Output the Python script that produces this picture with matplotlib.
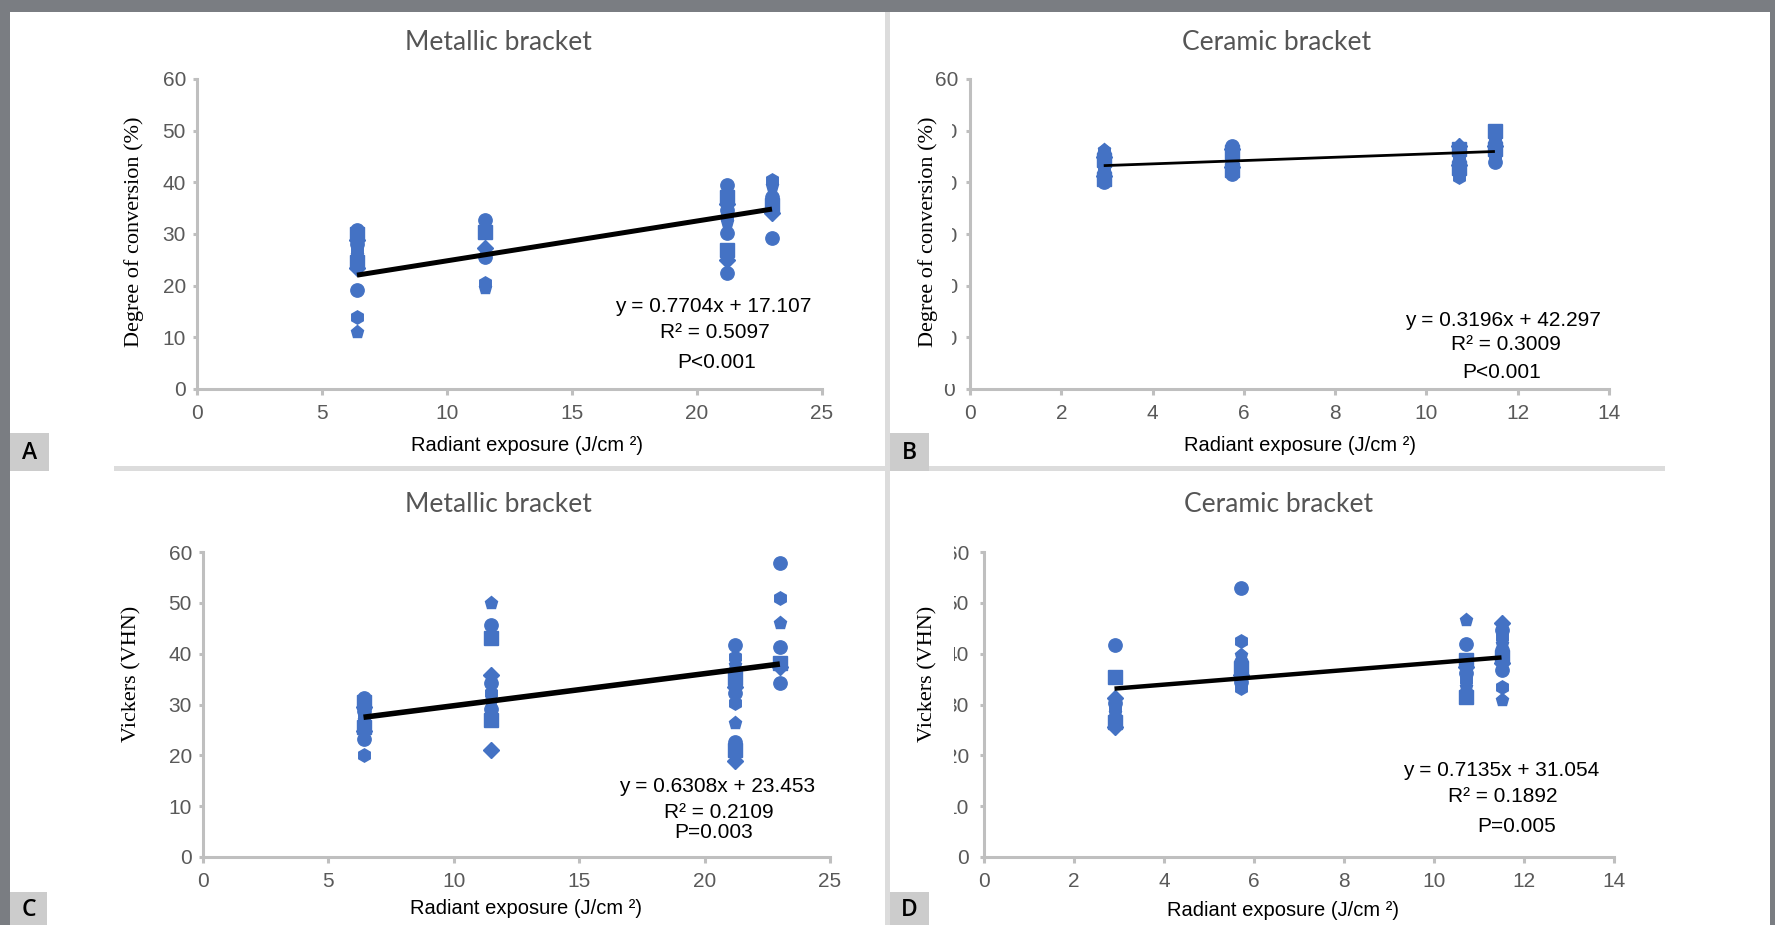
import matplotlib
matplotlib.use("Agg")
import matplotlib.pyplot as plt
from matplotlib.patches import Rectangle
from matplotlib.transforms import Bbox, TransformedBbox

plt.rcParams['font.family'] = ['Liberation Sans', 'DejaVu Sans']

# ---------------- data ----------------
titles = ["Metallic bracket", "Ceramic bracket", "Metallic bracket", "Ceramic bracket"]
ylabels = ["Degree of conversion (%)", "Degree of conversion (%)", "Vickers (VHN)", "Vickers (VHN)"]
xlabel_text = "Radiant exposure (J/cm \u00b2)"
panel_letters = ["A", "B", "C", "D"]

xmax_list = [25, 14, 25, 14]
xtick_step = [5, 2, 5, 2]
ytick_vals = [0, 10, 20, 30, 40, 50, 60]

xA = [6.4, 11.5, 21.2, 23.0]
yA = [
    [30.8, 30.0, 28.8, 28.0, 26.9, 26.0, 25.0, 24.5, 23.4, 19.2, 14.0, 11.1],
    [32.7, 30.4, 27.2, 25.6, 20.5, 19.5],
    [39.5, 37.2, 35.8, 34.6, 33.3, 32.4, 30.1, 26.9, 25.0, 22.4],
    [40.4, 39.2, 37.2, 35.6, 34.0, 29.2],
]

xB = [2.93, 5.74, 10.72, 11.5]
yB = [
    [40.1, 40.7, 41.3, 41.9, 42.5, 43.1, 43.7, 44.3, 44.9, 45.5, 46.0, 46.3],
    [41.7, 42.3, 42.9, 43.5, 44.1, 44.7, 45.3, 45.9, 46.5, 47.0],
    [41.0, 41.6, 42.2, 42.8, 43.4, 44.0, 44.6, 45.2, 45.8, 46.4, 47.0],
    [44.0, 44.6, 45.2, 45.8, 46.4, 47.0, 47.6, 48.2, 48.8, 49.4, 50.0],
]

xC = [6.4, 11.5, 21.2, 23.0]
yC = [
    [31.2, 30.4, 29.6, 28.7, 27.9, 27.0, 26.3, 25.5, 24.7, 23.3, 20.1],
    [49.9, 45.6, 43.0, 35.8, 34.2, 32.2, 30.6, 29.2, 27.0, 21.0],
    [41.7, 39.4, 37.8, 36.5, 35.2, 33.5, 32.2, 30.2, 26.3, 22.7, 21.0, 18.8],
    [57.8, 50.9, 46.0, 41.4, 38.1, 37.3, 34.2],
]

xD = [2.9, 5.7, 10.7, 11.5]
yD = [
    [41.7, 35.5, 31.2, 30.2, 29.3, 28.3, 27.3, 26.5, 25.6],
    [52.9, 42.4, 39.7, 38.4, 37.1, 35.8, 34.5, 33.2],
    [46.6, 42.0, 38.8, 37.4, 36.1, 34.8, 33.5, 32.2, 31.5],
    [46.0, 44.7, 43.3, 42.0, 40.7, 39.4, 38.1, 36.8, 33.5, 30.9],
]

slopes = [0.7704, 0.3196, 0.6308, 0.7135]
intercepts = [17.107, 42.297, 23.453, 31.054]
eq_texts = ["y = 0.7704x + 17.107", "y = 0.3196x + 42.297",
            "y = 0.6308x + 23.453", "y = 0.7135x + 31.054"]
r2_texts = ["R\u00b2 = 0.5097", "R\u00b2 = 0.3009", "R\u00b2 = 0.2109", "R\u00b2 = 0.1892"]
p_texts = ["P<0.001", "P<0.001", "P=0.003", "P=0.005"]

panel_x = [xA, xB, xC, xD]
panel_y = [yA, yB, yC, yD]

# ---------------- layout (pixel geometry) ----------------
W, H = 1775, 925
def fx(x): return x / W
def fy(y): return 1 - y / H

boxes = [(197, 822, 79, 389), (970, 1609, 79, 389),
         (203, 830, 552, 857), (984, 1614, 552, 857)]
title_pos = [(498, 43), (1277, 43), (498, 505), (1279, 505)]
xlab_pos = [(527, 446), (1300, 446), (526, 908), (1283, 910)]
ylab_pos = [(134, 232), (928, 232), (132, 674), (928, 674)]
eq_pos = [[(713, 306), (715, 333), (717, 362)],
          [(1503, 321), (1506, 344), (1502, 372)],
          [(717, 786), (719, 812), (714, 832)],
          [(1501, 771), (1503, 797), (1517, 826)]]
line_widths = [3.6, 2.0, 4.0, 3.2]
line_xr = [(6.4, 23.0), (2.93, 11.5), (6.4, 23.0), (2.9, 11.5)]

BLUE = "#4472C4"
SPINE = "#bfbfbf"
TICKTXT = "#595959"

fig = plt.figure(figsize=(W / 100, H / 100), dpi=100)
fig.patch.set_facecolor("white")

frame_col = "#7a7d82"
sep_col = "#dcdcdc"
def prect(x0, y0, x1, y1, col, z=0):
    fig.add_artist(Rectangle((fx(x0), fy(y1)), (x1 - x0) / W, (y1 - y0) / H,
                             transform=fig.transFigure, facecolor=col,
                             edgecolor="none", zorder=z))
prect(0, 0, W, 12, frame_col)
prect(0, 0, 10, H, frame_col)
prect(1770, 0, W, H, frame_col)
prect(885, 12, 890, H, sep_col)
prect(114, 466, 1665, 471, sep_col)

label_boxes = [(10, 433, 49, 471), (890, 433, 929, 471),
               (10, 892, 47, 925), (890, 892, 929, 925)]
for (x0, y0, x1, y1), let in zip(label_boxes, panel_letters):
    prect(x0, y0, x1, y1, "#cccccc", z=1)
    fig.text(fx((x0 + x1) / 2), fy((y0 + y1) / 2 + 1), let, ha="center", va="center",
             fontsize=16.5, fontweight="semibold",
             family=["Open Sans", "DejaVu Sans"], color="#000000")

markers = ["o", "s", "D", "o", "h", "p"]

for i in range(4):
    l, r, t, b = boxes[i]
    ax = fig.add_axes([fx(l), fy(b), (r - l) / W, (b - t) / H])
    ax.set_facecolor("none")
    ax.set_xlim(0, xmax_list[i])
    ax.set_ylim(0, 60)
    for s in ["top", "right"]:
        ax.spines[s].set_visible(False)
    for s in ["left", "bottom"]:
        ax.spines[s].set_color(SPINE)
        ax.spines[s].set_linewidth(2.2)
    ax.set_xticks(list(range(0, xmax_list[i] + 1, xtick_step[i])))
    ax.set_yticks(ytick_vals)
    ax.tick_params(axis="x", colors=SPINE, length=4.5, width=2.2, pad=6,
                   labelcolor=TICKTXT, labelsize=15)
    ax.tick_params(axis="y", colors=SPINE, length=3, width=2.2, pad=5,
                   labelcolor=TICKTXT, labelsize=15)

    k = 0
    for cx, vals in zip(panel_x[i], panel_y[i]):
        for v in vals:
            m = markers[k % len(markers)]
            ms = 9.6 if m != "D" else 8.2
            ax.plot([cx], [v], marker=m, ms=ms, color=BLUE, mec=BLUE,
                    linestyle="none", clip_on=False, zorder=3)
            k += 1
    x0, x1 = line_xr[i]
    ax.plot([x0, x1], [slopes[i] * x0 + intercepts[i], slopes[i] * x1 + intercepts[i]],
            color="black", lw=line_widths[i], solid_capstyle="butt", zorder=4)

    if i in (1, 3):
        ax.set_yticklabels([])
        for v in ytick_vals:
            ypx = b - v * (b - t) / 60.0
            if i == 1:
                xr_ = 958 if v != 0 else 955
                txt = fig.text(fx(xr_), fy(ypx), str(v), ha="right", va="center_baseline",
                               fontsize=15, color=TICKTXT)
                if v == 0:
                    cb = Bbox.from_extents(0, fy(H), 1, fy(384))
                elif v == 60:
                    cb = None
                else:
                    cb = Bbox.from_extents(fx(952), 0, 1, 1)
            else:
                txt = fig.text(fx(969), fy(ypx), str(v), ha="right", va="center_baseline",
                               fontsize=15, color=TICKTXT)
                cb = None if v == 0 else Bbox.from_extents(fx(954), 0, 1, 1)
            if cb is not None:
                txt.set_clip_box(TransformedBbox(cb, fig.transFigure))
                txt.set_clip_on(True)

    fig.text(fx(title_pos[i][0]), fy(title_pos[i][1]), titles[i], ha="center", va="center",
             fontsize=19, color="#555555", family=["Lato", "DejaVu Sans"])
    fig.text(fx(xlab_pos[i][0]), fy(xlab_pos[i][1]), xlabel_text, ha="center", va="center",
             fontsize=14.5, color="black")
    fig.text(fx(ylab_pos[i][0]), fy(ylab_pos[i][1]), ylabels[i], ha="center", va="center",
             rotation=90, fontsize=16, color="black",
             family=["Liberation Serif", "DejaVu Serif"])
    for (px, py), s in zip(eq_pos[i], [eq_texts[i], r2_texts[i], p_texts[i]]):
        fig.text(fx(px), fy(py), s, ha="center", va="center", fontsize=15, color="black")

fig.savefig("out.png", dpi=100, facecolor="white")
